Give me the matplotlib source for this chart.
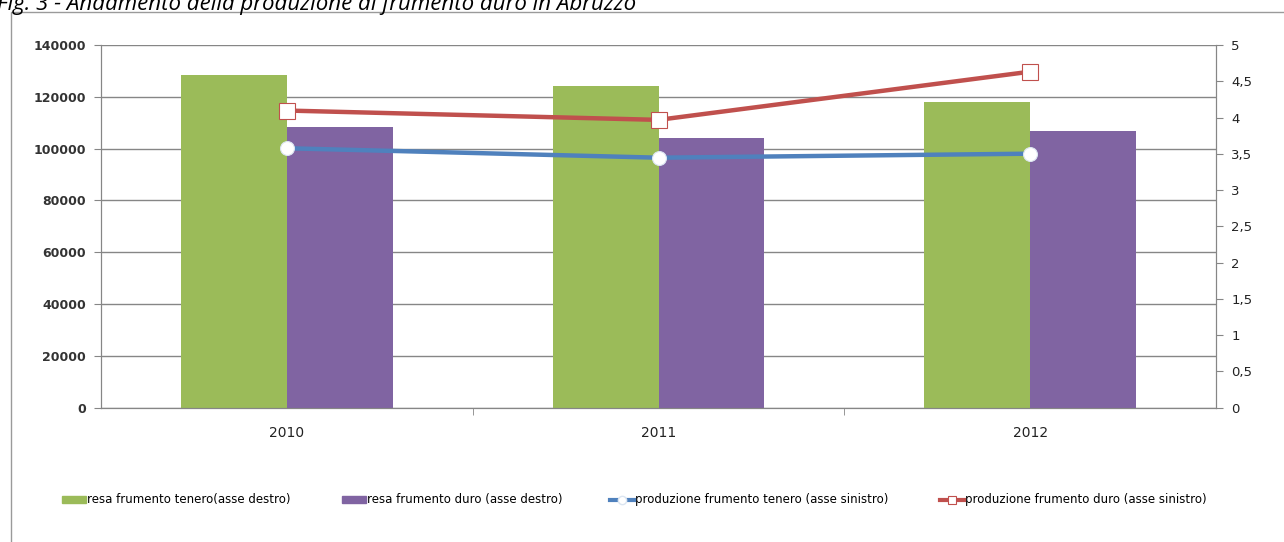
import numpy as np
import matplotlib
matplotlib.use("Agg")
import matplotlib.pyplot as plt
from matplotlib.patches import Patch
from matplotlib.lines import Line2D

# DATI
anni = ["2010", "2011", "2012"]
resa_tenero = [4.58, 4.44, 4.21]      # asse destro
resa_duro = [3.87, 3.72, 3.82]        # asse destro
prod_tenero = [100150, 96500, 98050]  # asse sinistro
prod_duro = [114700, 111100, 129700]  # asse sinistro
tick_sx = [0, 20000, 40000, 60000, 80000, 100000, 120000, 140000]
tick_dx = [0, 0.5, 1, 1.5, 2, 2.5, 3, 3.5, 4, 4.5, 5]
tick_dx_lab = ["0", "0,5", "1", "1,5", "2", "2,5", "3", "3,5", "4", "4,5", "5"]

verde = "#9BBB59"
viola = "#8064A2"
blu = "#4F81BD"
rosso = "#C0504D"
grigio = "#868686"

plt.rcParams['font.family'] = ['DejaVu Sans']

fig = plt.figure(figsize=(12.84, 5.42), dpi=100)
# cornice del grafico
fig.patches.append(plt.Rectangle((11/1284, -0.1), 1.2, 1.1 - 12/542, transform=fig.transFigure,
                                 fill=False, edgecolor="#9a9a9a", lw=1))
fig.text(-0.002, 1 - 10/542, "Fig. 3 - Andamento della produzione di frumento duro in Abruzzo",
         fontsize=16, style="italic", family=["Open Sans", "DejaVu Sans"], va="baseline")

ax = fig.add_axes([101/1284, 1 - 407.7/542, (1216 - 101)/1284, (407.7 - 45)/542])
ax2 = ax.twinx()

x = np.arange(len(anni))
w = 0.285
ax2.bar(x - w/2, resa_tenero, w, color=verde, zorder=2)
ax2.bar(x + w/2, resa_duro, w, color=viola, zorder=2)
for t in tick_sx:
    ax2.axhline(t * 5 / 140000, color=grigio, lw=1, zorder=1)

ax.plot(x, prod_tenero, color=blu, lw=3.2, marker="o", ms=10, mfc="white", mec="#dbe5f1", mew=0.8, zorder=3)
ax.plot(x, prod_duro, color=rosso, lw=3.2, marker="s", ms=11, mfc="white", mec=rosso, mew=0.8, zorder=3)
ax.set_zorder(ax2.get_zorder() + 1)
ax.patch.set_visible(False)

ax.set_xlim(-0.5, 2.5)
ax.set_ylim(0, 140000)
ax2.set_ylim(0, 5)
ax.set_yticks(tick_sx)
ax.set_yticklabels([str(t) for t in tick_sx], fontsize=9, color="#333333", fontweight="semibold")
ax2.set_yticks(tick_dx)
ax2.set_yticklabels(tick_dx_lab, fontsize=9.5, color="#222222")
ax.set_xticks(x)
ax.set_xticklabels(anni, fontsize=10, color="#222222")
ax.tick_params(axis="x", length=0, pad=13)
ax.set_xticks([0.5, 1.5], minor=True)
ax.tick_params(axis="x", which="minor", length=5, color=grigio)
ax.tick_params(axis="y", length=5, color=grigio, pad=6)
ax2.tick_params(axis="y", length=5, color=grigio, pad=6)

for a in (ax, ax2):
    a.spines["top"].set_visible(False)
    for s in ("left", "right", "bottom"):
        a.spines[s].set_color(grigio)

handles = [
    Patch(color=verde, label="resa frumento tenero(asse destro)"),
    Patch(color=viola, label="resa frumento duro (asse destro)"),
    Line2D([], [], color=blu, lw=3, marker="o", ms=6, mfc="white", mec="#dbe5f1",
           label="produzione frumento tenero (asse sinistro)"),
    Line2D([], [], color=rosso, lw=3, marker="s", ms=6, mfc="white", mec=rosso, mew=0.8,
           label="produzione frumento duro (asse sinistro)"),
]
# posizione (px) dell'inizio di ogni voce di legenda
leg_x = [62, 342, 610, 940]
for h, lx in zip(handles, leg_x):
    fig.legend(handles=[h], loc="center left", bbox_to_anchor=(lx / 1284, 1 - 500/542),
               frameon=False, fontsize=8.5, handlelength=2.0, handleheight=0.55,
               handletextpad=0.15, borderpad=0, borderaxespad=0)

fig.savefig("out.png", dpi=100)
